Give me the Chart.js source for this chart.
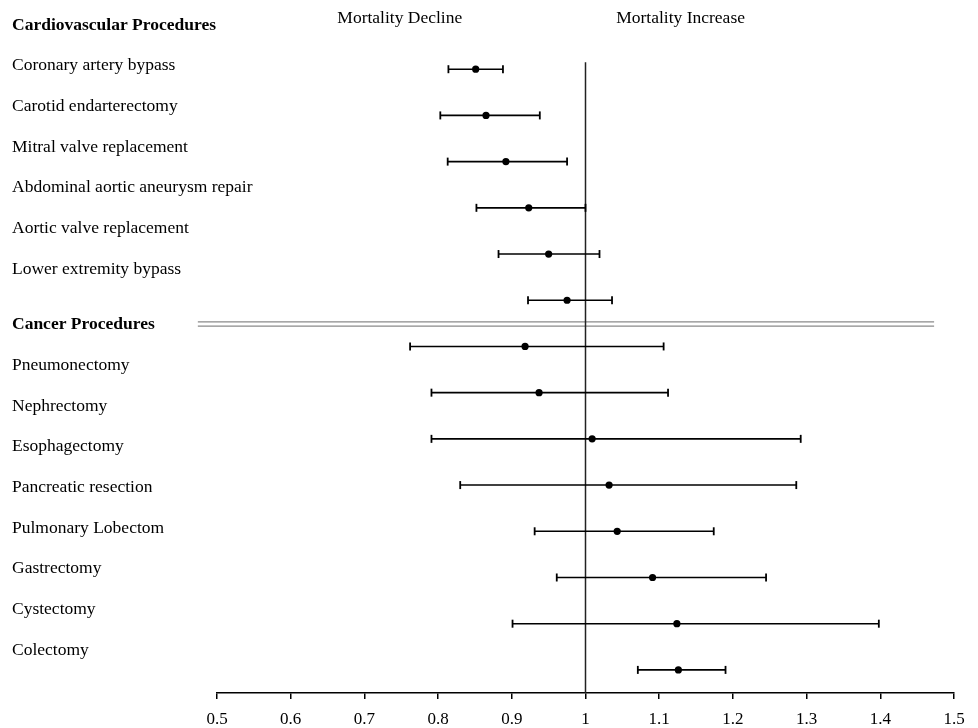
<!DOCTYPE html>
<html>
<head>
<meta charset="utf-8">
<script src="https://cdn.jsdelivr.net/npm/chart.js@4/dist/chart.umd.min.js"></script>
<style>
  html, body { margin: 0; padding: 0; background: #fff; }
  #wrap { width: 978px; height: 728px; }
</style>
</head>
<body>
<div id="wrap"><canvas id="c" width="978" height="728"></canvas></div>
<script>
// ---- data ----
const groupHeaders = ["Cardiovascular Procedures", "Cancer Procedures"];
const cardioLabels = ["Coronary artery bypass", "Carotid endarterectomy", "Mitral valve replacement",
  "Abdominal aortic aneurysm repair", "Aortic valve replacement", "Lower extremity bypass"];
const cancerLabels = ["Pneumonectomy", "Nephrectomy", "Esophagectomy", "Pancreatic resection",
  "Pulmonary Lobectom", "Gastrectomy", "Cystectomy", "Colectomy"];

const cardioEst = [0.851, 0.865, 0.892, 0.923, 0.950, 0.975];
const cardioLow = [0.814, 0.803, 0.813, 0.852, 0.882, 0.922];
const cardioHigh = [0.888, 0.938, 0.975, 1.000, 1.019, 1.036];

const cancerEst = [0.918, 0.937, 1.009, 1.032, 1.043, 1.091, 1.124, 1.126];
const cancerLow = [0.762, 0.791, 0.791, 0.830, 0.931, 0.961, 0.901, 1.071];
const cancerHigh = [1.106, 1.112, 1.292, 1.286, 1.174, 1.245, 1.398, 1.190];

const xTickValues = [0.5, 0.6, 0.7, 0.8, 0.9, 1, 1.1, 1.2, 1.3, 1.4, 1.5];
const directionLabels = ["Mortality Decline", "Mortality Increase"];
const nullValue = 1;

// ---- derived ----
const est = cardioEst.concat(cancerEst);
const low = cardioLow.concat(cancerLow);
const high = cardioHigh.concat(cancerHigh);
const nRows = est.length;

// left label list (headers + rows); slot positions on the label axis (layout only)
const leftLabels = [groupHeaders[0]].concat(cardioLabels, [groupHeaders[1]], cancerLabels);
const leftBold = leftLabels.map(l => groupHeaders.includes(l));
const leftSlots = leftLabels.map((l, i) => (i <= cardioLabels.length ? i : i + 0.36) + 0.05);

const FONT = "'Liberation Serif', 'Times New Roman', serif";
const BLACK = '#000';

const datasets = [];
// estimates
datasets.push({
  type: 'scatter',
  data: est.map((v, i) => ({ x: v, y: i })),
  pointRadius: 3.6,
  pointBackgroundColor: BLACK,
  pointBorderColor: BLACK,
  pointBorderWidth: 0,
  order: 0
});
// CI bars with caps
for (let i = 0; i < nRows; i++) {
  datasets.push({
    type: 'line',
    data: [{ x: low[i], y: i }, { x: high[i], y: i }],
    borderColor: BLACK,
    borderWidth: 1.6,
    pointStyle: 'line',
    rotation: 90,
    pointRadius: 4,
    pointBorderWidth: 1.8,
    pointBorderColor: BLACK,
    order: 1
  });
}
// null line at 1
datasets.push({
  type: 'line',
  data: [{ x: nullValue, y: -0.15 }, { x: nullValue, y: 13.5 }],
  borderColor: '#222',
  borderWidth: 1.5,
  pointRadius: 0,
  order: 1
});
// group separator (double line)
[5.47, 5.56].forEach(yv => {
  datasets.push({
    type: 'line',
    data: [{ x: 0.474, y: yv }, { x: 1.473, y: yv }],
    borderColor: '#8a8a8a',
    borderWidth: 1.3,
    pointRadius: 0,
    clip: false,
    order: 2
  });
});

new Chart(document.getElementById('c'), {
  type: 'scatter',
  data: { datasets },
  options: {
    responsive: false,
    animation: false,
    devicePixelRatio: 1,
    layout: { padding: { left: 12, right: 24, top: 0, bottom: 0 } },
    plugins: { legend: { display: false }, tooltip: { enabled: false } },
    scales: {
      x: {
        type: 'linear', position: 'bottom', min: 0.5, max: 1.5,
        afterBuildTicks: ax => { ax.ticks = xTickValues.map(v => ({ value: v })); },
        afterFit: ax => { ax.height = 35; },
        grid: { drawOnChartArea: false, drawTicks: true, tickLength: 6, color: BLACK, lineWidth: 1.5 },
        border: { display: true, color: BLACK, width: 1.6 },
        ticks: {
          autoSkip: false, maxRotation: 0, padding: 10, color: BLACK,
          font: { family: FONT, size: 17 },
          callback: v => String(Math.round(v * 10) / 10)
        }
      },
      xTop: {
        type: 'linear', position: 'top', min: 0.5, max: 1.5,
        afterBuildTicks: ax => { ax.ticks = [{ value: 0.748 }, { value: 1.129 }]; },
        afterFit: ax => { ax.height = 23; },
        grid: { display: false, drawTicks: false },
        border: { display: false },
        ticks: {
          autoSkip: false, maxRotation: 0, mirror: true, padding: -15, color: BLACK,
          font: { family: FONT, size: 17.5 },
          callback: (v, i) => directionLabels[i]
        }
      },
      y: {
        type: 'linear', display: false, reverse: true, min: -1, max: 13.5
      },
      yl: {
        type: 'linear', position: 'left', reverse: true, min: 0, max: 16.46,
        afterBuildTicks: ax => { ax.ticks = leftSlots.map(v => ({ value: v })); },
        afterFit: ax => { ax.width = 205; },
        grid: { display: false, drawTicks: false },
        border: { display: false },
        ticks: {
          autoSkip: false, mirror: true, crossAlign: 'near', padding: -205, color: BLACK,
          font: ctx => ({ family: FONT, size: 17.5, weight: leftBold[ctx.index] ? 'bold' : 'normal' }),
          callback: (v, i) => leftLabels[i]
        }
      }
    }
  }
});
</script>
</body>
</html>
